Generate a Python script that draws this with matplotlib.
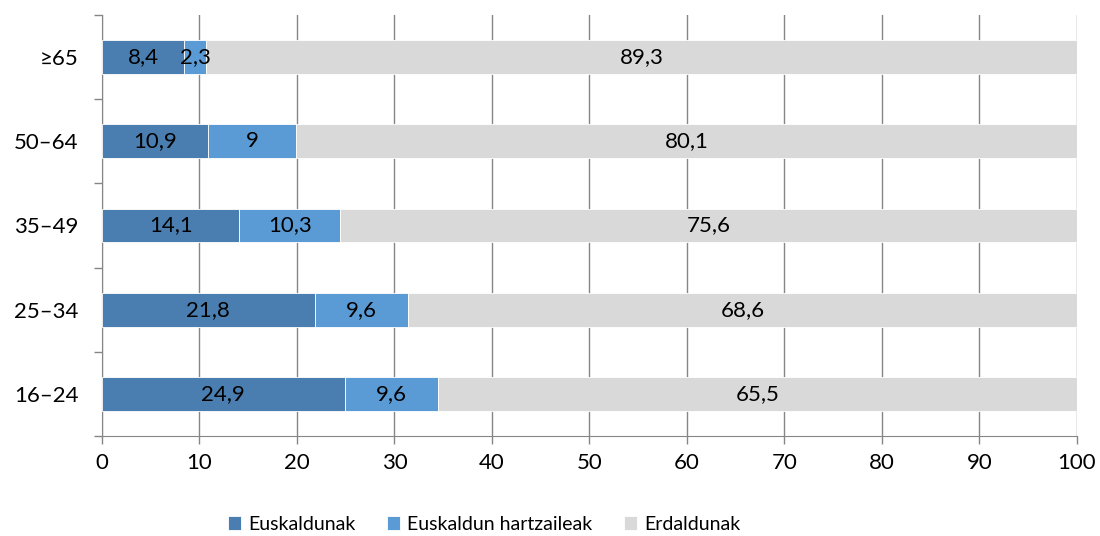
import matplotlib.pyplot as plt
import numpy as np

plt.rcParams['font.family'] = ['Lato', 'DejaVu Sans']

groups = ["16–24", "25–34", "35–49", "50–64", "≥65"]
euskaldunak = [24.9, 21.8, 14.1, 10.9, 8.4]
hartzaileak = [9.6, 9.6, 10.3, 9, 2.3]
erdaldunak = [65.5, 68.6, 75.6, 80.1, 89.3]
series_names = ["Euskaldunak", "Euskaldun hartzaileak", "Erdaldunak"]
colors = ["#4a7eb0", "#5b9bd5", "#d9d9d9"]


def fmt(v):
    s = f"{v:g}"
    return s.replace(".", ",")


fig = plt.figure(figsize=(11, 5.36), dpi=100)
ax = fig.add_axes([0.0927, 0.1866, 0.8863, 0.7854])

y = np.arange(len(groups))
left = np.zeros(len(groups))
for name, vals, col in zip(series_names, [euskaldunak, hartzaileak, erdaldunak], colors):
    bars = ax.barh(y, vals, left=left, height=0.4, color=col, edgecolor="white",
                   linewidth=0.6, label=name, zorder=3)
    for b, v in zip(bars, vals):
        ax.text(b.get_x() + b.get_width() / 2, b.get_y() + b.get_height() / 2, fmt(v),
                ha="center", va="center", fontsize=16, color="black", zorder=4)
    left += np.array(vals)

ax.set_xlim(0, 100)
ax.set_ylim(-0.5, len(groups) - 0.5)
ax.set_xticks(range(0, 101, 10))
ax.set_yticks(y)
ax.set_yticklabels(groups)
ax.set_yticks(np.arange(-0.5, len(groups), 1), minor=True)
ax.tick_params(axis="y", which="major", length=0, pad=17, labelsize=16)
ax.tick_params(axis="y", which="minor", length=6, color="#868686", width=1)
ax.tick_params(axis="x", length=6, color="#868686", width=1, labelsize=16, pad=6)
ax.grid(axis="x", color="#868686", linewidth=1, zorder=0)
for s in ["top", "right"]:
    ax.spines[s].set_visible(False)
ax.spines["bottom"].set_color("#868686")
ax.spines["left"].set_color("#868686")

fig.legend(loc="center", bbox_to_anchor=(0.44, 0.022), ncol=3, frameon=False,
           fontsize=14, handlelength=0.7, handleheight=0.7, columnspacing=1.6,
           handletextpad=0.35)

fig.savefig("out.png", dpi=100)
